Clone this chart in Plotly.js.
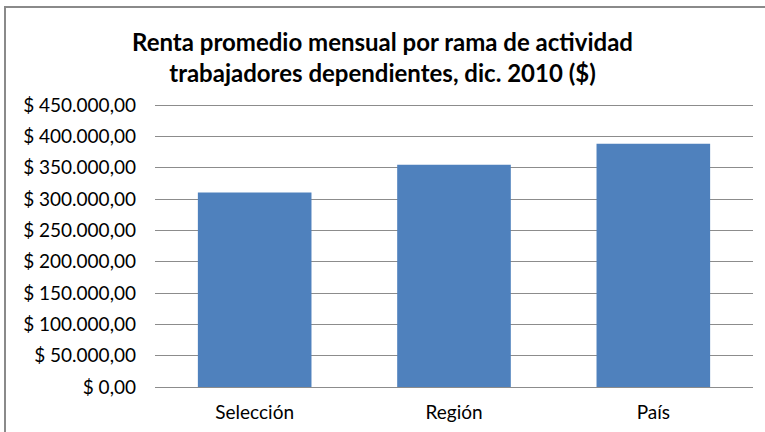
<!DOCTYPE html>
<html><head><meta charset="utf-8">
<script src="https://cdn.plot.ly/plotly-3.0.1.min.js"></script>
<style>
html,body{margin:0;padding:0;background:#fff;overflow:hidden;}
#wrap{position:relative;width:765px;height:432px;overflow:hidden;}
#chart{position:absolute;left:0;top:0;width:765px;height:432px;}
#frame{position:absolute;left:4px;top:6px;width:900px;height:600px;border-top:2px solid #8a8a8a;border-left:2px solid #8a8a8a;pointer-events:none;}
</style>
</head><body><div id="wrap"><div id="chart"></div><div id="frame"></div></div>
<script>
const categories = ["Selección", "Región", "País"];
const rentas = [310500, 354500, 388000];
const tickVals = [0, 50000, 100000, 150000, 200000, 250000, 300000, 350000, 400000, 450000];
const tickLabels = ["$ 0,00", "$ 50.000,00", "$ 100.000,00", "$ 150.000,00", "$ 200.000,00", "$ 250.000,00", "$ 300.000,00", "$ 350.000,00", "$ 400.000,00", "$ 450.000,00"];
const titleText = "Renta promedio mensual por rama de actividad<br>trabajadores dependientes, dic. 2010 ($)";

const L = 155, R = 12, T = 100, B = 45, W = 765, H = 432;

Plotly.newPlot('chart', [{
  type: 'bar', x: categories, y: rentas,
  marker: {color: '#4F81BD', line: {width: 0}},
  hoverinfo: 'skip'
}], {
  width: W, height: H,
  margin: {l: L, r: R, t: T, b: B, pad: 0},
  paper_bgcolor: 'rgba(0,0,0,0)', plot_bgcolor: 'rgba(0,0,0,0)',
  font: {family: 'Lato, Carlito, Calibri, sans-serif', size: 19, color: '#000'},
  title: {text: titleText, x: 0.5, xref: 'container', y: 1 - 51/H, yref: 'container', yanchor: 'top',
          font: {family: 'Lato, Carlito, Calibri, sans-serif', size: 24, color: '#000', weight: 'bold'}},
  bargap: 0.43,
  showlegend: false,
  xaxis: {showgrid: false, showline: false, zeroline: false, ticks: '', ticklabelstandoff: 12,
          tickfont: {size: 19}},
  yaxis: {range: [0, 457979], tickvals: tickVals, ticktext: tickLabels, showgrid: true,
          gridcolor: '#8c8c8c', gridwidth: 1, zeroline: true, zerolinecolor: '#8c8c8c', zerolinewidth: 1,
          showline: false, ticks: '', ticklabelstandoff: 18, tickfont: {size: 19}}
}, {displayModeBar: false, staticPlot: true});
</script></body></html>
